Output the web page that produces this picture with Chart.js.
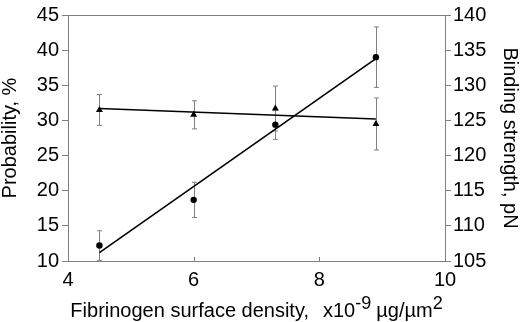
<!DOCTYPE html>
<html>
<head>
<meta charset="utf-8">
<script src="https://cdn.jsdelivr.net/npm/chart.js@4"></script>
<style>
  html, body { margin: 0; padding: 0; background: #fff; }
  #wrap { width: 520px; height: 322px; }
</style>
</head>
<body>
<div id="wrap"><canvas id="chart" width="520" height="322"></canvas></div>
<script>
// Data
const density = [4.5, 6, 7.3, 8.9];
const probability = [12.2, 18.7, 29.4, 39.0];    // %, circles, left axis
const probabilityErr = [2.1, 2.5, 2.1, 4.3];
const strength = [126.5, 125.8, 126.7, 124.5];   // pN, triangles, right axis
const strengthErr = [2.2, 2.0, 3.2, 3.7];

// Trend line end points
const trendX = [4.5, 8.9];
const probabilityTrend = [11.2, 38.8];
const strengthTrend = [126.7, 125.2];

const FONT = "'Liberation Sans', Arial, sans-serif";
const AXIS_GREY = "#808080";

function toPoints(xs, ys) {
  return xs.map((x, i) => ({ x: x, y: ys[i] }));
}

// Vertical error bars, drawn behind the markers
const errorBars = {
  id: "errorBars",
  beforeDatasetsDraw(chart) {
    const ctx = chart.ctx;
    const x = chart.scales.x;
    const sets = [
      { scale: chart.scales.y, vals: probability, err: probabilityErr },
      { scale: chart.scales.y2, vals: strength, err: strengthErr }
    ];
    ctx.save();
    ctx.strokeStyle = AXIS_GREY;
    ctx.lineWidth = 1;
    sets.forEach(s => {
      density.forEach((d, i) => {
        const px = Math.round(x.getPixelForValue(d)) + 0.5;
        const top = s.scale.getPixelForValue(s.vals[i] + s.err[i]);
        const bot = s.scale.getPixelForValue(s.vals[i] - s.err[i]);
        ctx.beginPath();
        ctx.moveTo(px, top);
        ctx.lineTo(px, bot);
        ctx.moveTo(px - 2.5, top);
        ctx.lineTo(px + 2.5, top);
        ctx.moveTo(px - 2.5, bot);
        ctx.lineTo(px + 2.5, bot);
        ctx.stroke();
      });
    });
    ctx.restore();
  }
};

// Top frame line, inward x ticks and the x title with superscripts
const frameAndTitle = {
  id: "frameAndTitle",
  afterDraw(chart) {
    const ctx = chart.ctx;
    const a = chart.chartArea;
    const x = chart.scales.x;
    ctx.save();
    ctx.strokeStyle = AXIS_GREY;
    ctx.lineWidth = 1;
    ctx.beginPath();
    ctx.moveTo(a.left, a.top + 0.5);
    ctx.lineTo(a.right, a.top + 0.5);
    x.ticks.forEach(t => {
      const px = Math.round(x.getPixelForValue(t.value)) + 0.5;
      ctx.moveTo(px, a.bottom);
      ctx.lineTo(px, a.bottom - 4);
    });
    ctx.stroke();

    const parts = [
      { t: "Fibrinogen surface density,", size: 20, rise: 0, gap: 14 },
      { t: "x10", size: 20, rise: 0, gap: 0 },
      { t: "-9", size: 18, rise: 8, gap: 5 },
      { t: "\u00b5g/\u00b5m", size: 20, rise: 0, gap: 0 },
      { t: "2", size: 18, rise: 8, gap: 0 }
    ];
    let total = 0;
    parts.forEach(p => {
      ctx.font = p.size + "px " + FONT;
      p.w = ctx.measureText(p.t).width;
      total += p.w + p.gap;
    });
    let cx = (a.left + a.right) / 2 - total / 2;
    const baseline = 317;
    ctx.fillStyle = "#000";
    ctx.textBaseline = "alphabetic";
    ctx.textAlign = "left";
    parts.forEach(p => {
      ctx.font = p.size + "px " + FONT;
      ctx.fillText(p.t, cx, baseline - p.rise);
      cx += p.w + p.gap;
    });
    ctx.restore();
  }
};

new Chart(document.getElementById("chart"), {
  type: "scatter",
  data: {
    datasets: [
      {
        label: "Probability",
        data: toPoints(density, probability),
        yAxisID: "y",
        pointStyle: "circle",
        pointRadius: 3.2,
        backgroundColor: "#000",
        borderColor: "#000",
        borderWidth: 0
      },
      {
        label: "Binding strength",
        data: toPoints(density, strength),
        yAxisID: "y2",
        pointStyle: "triangle",
        pointRadius: 4,
        backgroundColor: "#000",
        borderColor: "#000",
        borderWidth: 0
      },
      {
        label: "Probability trend",
        data: toPoints(trendX, probabilityTrend),
        yAxisID: "y",
        showLine: true,
        pointRadius: 0,
        borderColor: "#000",
        borderWidth: 1.6
      },
      {
        label: "Strength trend",
        data: toPoints(trendX, strengthTrend),
        yAxisID: "y2",
        showLine: true,
        pointRadius: 0,
        borderColor: "#000",
        borderWidth: 1.6
      }
    ]
  },
  options: {
    responsive: false,
    animation: false,
    layout: { padding: { top: 8, left: 0, right: 0, bottom: 0 } },
    plugins: { legend: { display: false }, tooltip: { enabled: false } },
    scales: {
      x: {
        type: "linear",
        min: 4, max: 10,
        afterFit: s => { s.height = 61; },
        ticks: { stepSize: 2, color: "#000", font: { family: FONT, size: 20 }, padding: 7 },
        grid: { drawOnChartArea: false, drawTicks: false, color: AXIS_GREY },
        border: { color: AXIS_GREY }
      },
      y: {
        position: "left",
        min: 10, max: 45,
        afterFit: s => { s.width = 68; },
        ticks: { stepSize: 5, color: "#000", font: { family: FONT, size: 20 }, padding: 3 },
        grid: { drawOnChartArea: false, tickLength: 6, color: AXIS_GREY },
        border: { color: AXIS_GREY },
        title: {
          display: true,
          text: "Probability, %",
          color: "#000",
          font: { family: FONT, size: 20, lineHeight: 1 },
          padding: 0
        }
      },
      y2: {
        position: "right",
        min: 105, max: 140,
        afterFit: s => { s.width = 75; },
        ticks: { stepSize: 5, color: "#000", font: { family: FONT, size: 20 }, padding: 2 },
        grid: { drawOnChartArea: false, tickLength: 6, color: AXIS_GREY },
        border: { color: AXIS_GREY },
        title: {
          display: true,
          text: "Binding strength, pN",
          color: "#000",
          font: { family: FONT, size: 20, lineHeight: 1 },
          padding: 0
        }
      }
    }
  },
  plugins: [errorBars, frameAndTitle]
});
</script>
</body>
</html>
